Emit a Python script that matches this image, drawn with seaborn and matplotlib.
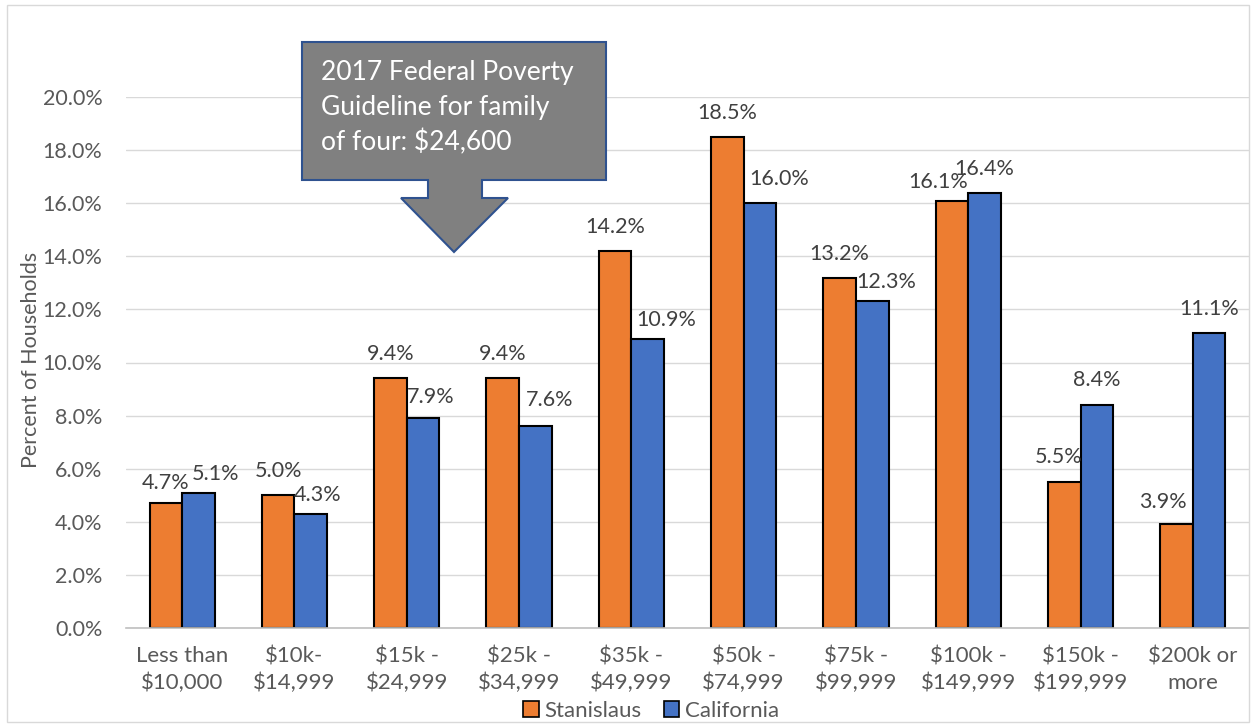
import matplotlib
matplotlib.use("Agg")
import matplotlib.pyplot as plt
import matplotlib.patches as mpatches
import seaborn as sns
import pandas as pd

categories = ["Less than\n$10,000", "$10k-\n$14,999", "$15k -\n$24,999", "$25k -\n$34,999",
              "$35k -\n$49,999", "$50k -\n$74,999", "$75k -\n$99,999", "$100k -\n$149,999",
              "$150k -\n$199,999", "$200k or\nmore"]
stanislaus = [4.7, 5.0, 9.4, 9.4, 14.2, 18.5, 13.2, 16.1, 5.5, 3.9]
california = [5.1, 4.3, 7.9, 7.6, 10.9, 16.0, 12.3, 16.4, 8.4, 11.1]
series_names = ["Stanislaus", "California"]
y_ticks = [0, 2, 4, 6, 8, 10, 12, 14, 16, 18, 20]
callout_text = "2017 Federal Poverty\nGuideline for family\nof four: $24,600"

colors = {"Stanislaus": "#ED7D31", "California": "#4472C4"}

# label nudges (pixels: dx right, dy down) to mimic the reference's label placement
nudges = {
    ("Stanislaus", 0): (0, 4), ("Stanislaus", 7): (-14, 5), ("Stanislaus", 8): (-6, -1),
    ("Stanislaus", 9): (-14, 2),
    ("California", 0): (17, 5), ("California", 1): (7, 5), ("California", 2): (8, 3),
    ("California", 3): (14, -2), ("California", 4): (19, 5), ("California", 5): (19, 0),
    ("California", 6): (14, 5), ("California", 8): (0, -1),
}

df = pd.DataFrame({
    "category": categories * 2,
    "series": [series_names[0]] * len(categories) + [series_names[1]] * len(categories),
    "value": stanislaus + california,
})

sns.set_theme(style="white")
plt.rcParams["font.family"] = ["Lato", "DejaVu Sans"]

W, H = 1252, 726
fig = plt.figure(figsize=(W / 100, H / 100), dpi=100)
ax = fig.add_axes([126 / W, 1 - 628 / H, (1249 - 126) / W, (628 - 97) / H])

sns.barplot(data=df, x="category", y="value", hue="series", order=categories,
            hue_order=series_names, palette=colors, width=0.58, gap=0,
            edgecolor="black", linewidth=1.5, ax=ax, legend=False, saturation=1)

px = 0.72  # points per pixel at dpi 100
for name, cont in zip(series_names, ax.containers):
    for i, bar in enumerate(cont):
        h = bar.get_height()
        xc = bar.get_x() + bar.get_width() / 2
        dx, dy = nudges.get((name, i), (0, 0))
        ax.annotate(f"{h:.1f}%", xy=(xc, h), xytext=(dx * px, (24 - dy) * px),
                    textcoords="offset points", ha="center", va="center",
                    fontsize=15.5, color="#404040", annotation_clip=False)

ax.set_ylim(0, 20)
ax.set_xlim(-0.5, len(categories) - 0.5)
ax.set_yticks(y_ticks)
ax.set_yticklabels([f"{v:.1f}%" for v in y_ticks], fontsize=15.5, color="#595959")
ax.tick_params(axis="x", labelsize=16, labelcolor="#595959", length=0, pad=13)
for t in ax.get_xticklabels():
    t.set_linespacing(1.42)
ax.tick_params(axis="y", length=0, pad=17)
ax.yaxis.grid(True, color="#D9D9D9", linewidth=1)
ax.set_axisbelow(True)
for s in ["top", "right", "left"]:
    ax.spines[s].set_visible(False)
ax.spines["bottom"].set_color("#BFBFBF")
ax.spines["bottom"].set_linewidth(1.2)
ax.set_xlabel("")
ax.set_ylabel("Percent of Households", fontsize=15.5, color="#595959", va="center")
ax.yaxis.set_label_coords((31 - 126) / 1123, (628 - 359.5) / 531)

# legend
handles = [mpatches.Patch(facecolor=colors[n], edgecolor="black", linewidth=1.2, label=n)
           for n in series_names]
fig.legend(handles=handles, loc="lower center", bbox_to_anchor=(0.52, -0.02), ncol=2,
           frameon=False, fontsize=16, handlelength=0.7, handleheight=0.7,
           handletextpad=0.25, columnspacing=1.0, labelcolor="#595959")

# callout shape (figure pixel coords)
pts = [(302, 42), (606, 42), (606, 180), (482, 180), (482, 198), (508, 198),
       (454, 252), (401, 198), (428, 198), (428, 180), (302, 180)]
poly = mpatches.Polygon([(x / W, 1 - y / H) for x, y in pts], closed=True,
                        facecolor="#808080", edgecolor="#2F528F", linewidth=1.5,
                        transform=fig.transFigure, zorder=10)
fig.add_artist(poly)
fig.text(321 / W, 1 - 108 / H, callout_text, color="white", fontsize=19,
         ha="left", va="center", linespacing=1.47, zorder=11)

# outer border
border = mpatches.Rectangle((7 / W, 1 - 722 / H), (1249 - 7) / W, (722 - 5) / H,
                            transform=fig.transFigure, fill=False,
                            edgecolor="#D9D9D9", linewidth=1)
fig.add_artist(border)

fig.savefig("out.png", dpi=100)
